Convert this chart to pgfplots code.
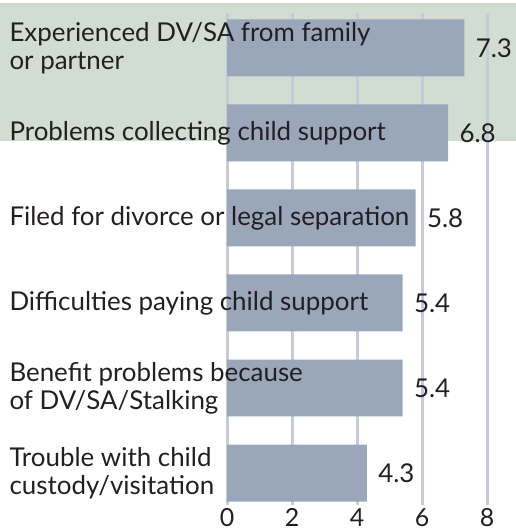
\documentclass[border=0pt]{standalone}
\usepackage{pgfplots}
\pgfplotsset{compat=1.18}
\usepackage{fontspec}
\setmainfont{Lato}
\definecolor{barc}{HTML}{9AA7BB}
\definecolor{gridc}{HTML}{C5CBDA}
\definecolor{bgc}{HTML}{D0DDD0}
\definecolor{txt}{HTML}{231F20}

\begin{document}
\begin{tikzpicture}[font=\fontsize{26}{28}\selectfont]
\useasboundingbox (0,-26bp) rectangle (516bp,505bp);
% green band behind the first two rows
\fill[bgc] (0,364bp) rectangle (516bp,502bp);
\begin{axis}[
    at={(0,0)}, anchor=south west,
    scale only axis, width=516bp, height=492bp,
    xbar, bar width=0.67,
    xmin=-6.985, xmax=8.892,
    ymin=-0.41, ymax=5.376, y dir=reverse,
    xtick={0,2,4,6,8}, ytick=\empty,
    xmajorgrids, grid style={gridc, line width=3bp},
    axis line style={draw=none},
    major tick length=0pt,
    xticklabel style={text=txt, font=\fontsize{25}{26}\selectfont, inner sep=0pt, yshift=-3bp},
    /pgf/number format/assume math mode=true,
    clip=false,
    nodes near coords,
    point meta=x,
    nodes near coords style={anchor=west, xshift=8bp, text=txt,
        /pgf/number format/.cd, fixed, precision=1, fixed zerofill},
]
\addplot[fill=barc, draw=none] coordinates {
  (7.3,0) (6.8,1) (5.8,2) (5.4,3) (5.4,4) (4.3,5)
};
\begin{scope}[every node/.style={anchor=west, align=left, text=txt, xshift=6bp}]
\node at (axis cs:-6.985,0) {Experienced DV/SA from family\\or partner};
\node at (axis cs:-6.985,1) {Problems collecting child support};
\node at (axis cs:-6.985,2) {Filed for divorce or legal separation};
\node at (axis cs:-6.985,3) {Difficulties paying child support};
\node at (axis cs:-6.985,4) {Benefit problems because\\of DV/SA/Stalking};
\node at (axis cs:-6.985,5) {Trouble with child\\custody/visitation};
\end{scope}
\end{axis}
\end{tikzpicture}
\end{document}
